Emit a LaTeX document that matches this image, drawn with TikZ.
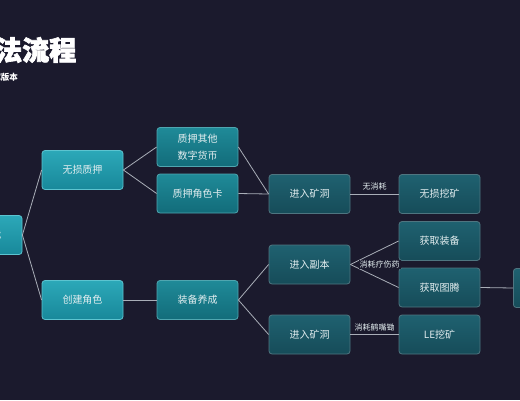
\documentclass[tikz,border=0pt]{standalone}
\usepackage{fontspec}
\setmainfont{Noto Sans CJK SC}
\newfontfamily\flowtitlefont[FakeBold=2.5]{Noto Sans CJK SC}
\usetikzlibrary{positioning}
\definecolor{FlowBg}{HTML}{1B1A2D}
\definecolor{FlowLine}{HTML}{A9AEB8}
\definecolor{FlowText}{HTML}{E4EEF0}
\definecolor{FlowTopA}{HTML}{2CA8B8}
\definecolor{FlowBotA}{HTML}{18889A}
\definecolor{FlowRimA}{HTML}{5CC4D0}
\definecolor{FlowTopB}{HTML}{1F8A98}
\definecolor{FlowBotB}{HTML}{126C7A}
\definecolor{FlowRimB}{HTML}{4FA6B0}
\definecolor{FlowTopC}{HTML}{1F6170}
\definecolor{FlowBotC}{HTML}{164C59}
\definecolor{FlowRimC}{HTML}{4F7580}
\tikzset{
  flow/box/.style={
    rounded corners=3pt, line width=.8pt,
    minimum width=81pt, minimum height=39pt, inner sep=2pt,
    font=\fontsize{10}{14}\selectfont, text=FlowText, align=center
  },
  flow/first/.style={flow/box, draw=FlowRimA, top color=FlowTopA, bottom color=FlowBotA},
  flow/second/.style={flow/box, draw=FlowRimB, top color=FlowTopB, bottom color=FlowBotB},
  flow/third/.style={flow/box, draw=FlowRimC, top color=FlowTopC, bottom color=FlowBotC},
  flow/link/.style={draw=FlowLine, line width=.8pt},
  flow/note/.style={font=\fontsize{8}{9}\selectfont, text=FlowText, inner sep=1pt}
}

\begin{document}
\begin{tikzpicture}[x=1pt,y=-1pt]
  \useasboundingbox (0,0) rectangle (520,400);
  \clip (0,0) rectangle (520,400);
  \fill[FlowBg] (0,0) rectangle (520,400);
  % title
  \node[anchor=west, inner sep=0pt, text=white,
    font=\fontsize{27}{27}\selectfont\flowtitlefont\bfseries] (title) at (-32,50) {玩法流程};
  \node[anchor=east, inner sep=0pt, text=white,
    font=\fontsize{8.5}{9}\selectfont\bfseries] (subtitle) at (18,77) {测试版本};
  % first column
  \node[flow/first] (start) at (-18.5,235) {进入游戏};
  \node[flow/first] (pledge) at (82.5,170) {无损质押};
  \node[flow/first] (create) at (82.5,300) {创建角色};
  % second column
  \node[flow/second] (coin) at (197.5,147) {质押其他\\[3pt]数字货币};
  \node[flow/second] (card) at (197.5,193.5) {质押角色卡};
  \node[flow/second] (gear) at (197.5,300) {装备养成};
  % third column
  \node[flow/third] (mineA) at (309.5,194) {进入矿洞};
  \node[flow/third] (dungeon) at (309.5,264.5) {进入副本};
  \node[flow/third] (mineB) at (309.5,334.5) {进入矿洞};
  % fourth column
  \node[flow/third] (free) at (439.5,194) {无损挖矿};
  \node[flow/third] (equip) at (439.5,241) {获取装备};
  \node[flow/third] (totem) at (439.5,287.5) {获取图腾};
  \node[flow/third] (lemine) at (439.5,334.5) {LE挖矿};
  \node[flow/third, minimum width=60pt, anchor=west, align=left,
    inner xsep=3pt] (next) at (513,288) {图腾合成};
  % links
  \draw[flow/link] (start.east) -- (pledge.west);
  \draw[flow/link] (start.east) -- (create.west);
  \draw[flow/link] (pledge.east) -- (coin.west);
  \draw[flow/link] (pledge.east) -- (card.west);
  \draw[flow/link] (coin.east) -- (mineA.west);
  \draw[flow/link] (card.east) -- (mineA.west);
  \draw[flow/link] (mineA.east) -- (free.west)
    node[flow/note, midway, above=2pt] {无消耗};
  \draw[flow/link] (create.east) -- (gear.west);
  \draw[flow/link] (gear.east) -- (dungeon.west);
  \draw[flow/link] (gear.east) -- (mineB.west);
  \draw[flow/link] (dungeon.east) -- (equip.west);
  \draw[flow/link] (dungeon.east) -- (totem.west);
  \node[flow/note, fill=FlowBg, anchor=west] (potion) at ([xshift=8pt]dungeon.east) {消耗疗伤药};
  \draw[flow/link] (mineB.east) -- (lemine.west)
    node[flow/note, midway, above=2pt] {消耗鹤嘴锄};
  \draw[flow/link] (totem.east) -- (next.west);
\end{tikzpicture}
\end{document}
